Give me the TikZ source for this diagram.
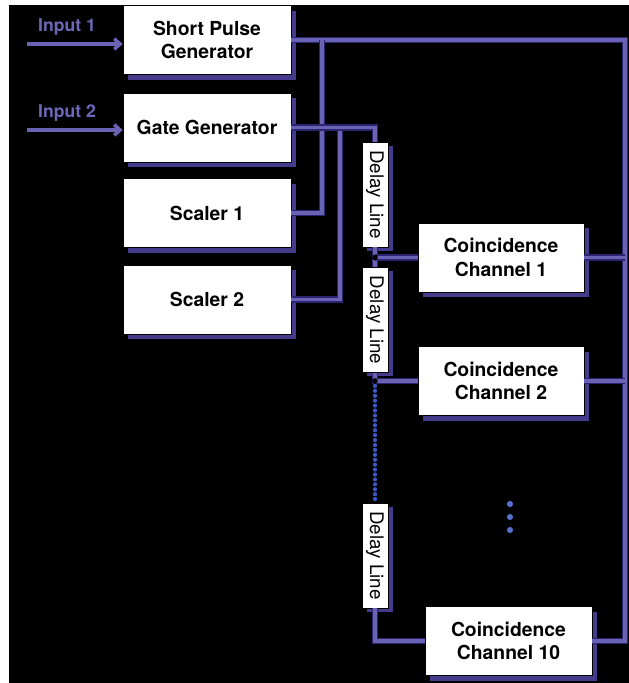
\documentclass[tikz,border=0pt]{standalone}
\usepackage{fontspec}
\setmainfont{TeX Gyre Heros}
\usepackage{tikz}
\usetikzlibrary{arrows.meta,positioning,shadows}
\definecolor{wireedge}{HTML}{2B2470}
\definecolor{wirecore}{HTML}{6A62B2}
\definecolor{shade}{HTML}{453B8C}
\definecolor{inlabel}{HTML}{6E66B8}
\definecolor{dotblue}{HTML}{3A58C8}

\begin{document}
\begin{tikzpicture}[x=0.03cm,y=-0.03cm,
  unit/.style={rectangle,draw=black,line width=0.5pt,fill=white,minimum width=5.04cm,minimum height=2.07cm,align=center,inner sep=2pt,font=\fontsize{16.5}{20}\selectfont\bfseries,general shadow={fill=shade,shadow xshift=4.5pt,shadow yshift=-4.5pt}},
  delay/.style={rectangle,draw=black,line width=0.4pt,fill=white,minimum width=0.78cm,minimum height=3.15cm,inner sep=1pt,font=\fontsize{16}{19}\selectfont,general shadow={fill=shade,shadow xshift=4pt,shadow yshift=-3pt}},
  wire/.style={draw=wireedge,line width=1.2pt,double=wirecore,double distance=2.8pt},
  feed/.style={-{Straight Barb[length=5pt,width=9pt]},draw=wirecore,line width=3pt},
  inname/.style={font=\fontsize{15}{18}\selectfont\bfseries,text=inlabel,inner sep=1pt}]
\useasboundingbox (0,0) rectangle (629,683);
\fill[black] (9,5) rectangle (629,683);

% left column
\node[unit] (spg) at (207,40) {Short Pulse\\Generator};
\node[unit] (gate) at (207,127.5) {Gate Generator};
\node[unit] (sc1) at (207,213) {Scaler 1};
\node[unit] (sc2) at (207,299.5) {Scaler 2};

% inputs
\node[inname] (in1) at (67,27) {Input 1};
\node[inname] (in2) at (67,113) {Input 2};
\coordinate (s1) at (27,44);
\coordinate (s2) at (27,130);
\draw[feed] (s1) -- (s1 -| spg.west);
\draw[feed] (s2) -- (s2 -| gate.west);

% delay chain and channels
\node[delay] (d1) at (375,194.5) {\rotatebox{-90}{Delay Line}};
\node[delay] (d2) at (375,320) {\rotatebox{-90}{Delay Line}};
\node[delay] (d3) at (375,555.5) {\rotatebox{-90}{Delay Line}};
\node[unit,minimum width=4.98cm] (ch1) at (501,257.5) {Coincidence\\Channel 1};
\node[unit,minimum width=4.98cm] (ch2) at (501,381) {Coincidence\\Channel 2};
\node[unit,minimum width=5.01cm] (ch10) at (508.5,641) {Coincidence\\Channel 10};
\coordinate (more) at (510,504);
\foreach \k in {0,1,2}
  \fill[dotblue!85] (more) ++(0,\k*13) circle (2.6pt);

\coordinate (rt) at (625,641);
\coordinate (j1) at (322,40);
\coordinate (j2) at (340,127.5);
\coordinate (k1) at (d1.south |- ch1.west);
\coordinate (k2) at (d2.south |- ch2.west);

% wires
\draw[wire] (spg.east) -| (rt) -- (ch10.east);
\draw[wire] (ch1.east) -- (ch1.east -| rt);
\draw[wire] (ch2.east) -- (ch2.east -| rt);
\draw[wire] (sc1.east) -| (j1);
\draw[wire] (sc2.east) -| (j2);
\draw[wire] (gate.east) -| (d1.north);
\draw[wire] (d1.south) -- (d2.north);
\draw[wire] (k1) -- (ch1.west);
\draw[wire] (d2.south) -- (k2) -- (ch2.west);
\draw[dotblue,line width=3.6pt,line cap=round,dash pattern=on 0pt off 4.2pt] (k2) -- (d3.north);
\draw[wire] (d3.south) |- (ch10.west);
\fill[black] (k1) circle (2.4pt);
\fill[black] (k2) circle (2.4pt);
\end{tikzpicture}
\end{document}
